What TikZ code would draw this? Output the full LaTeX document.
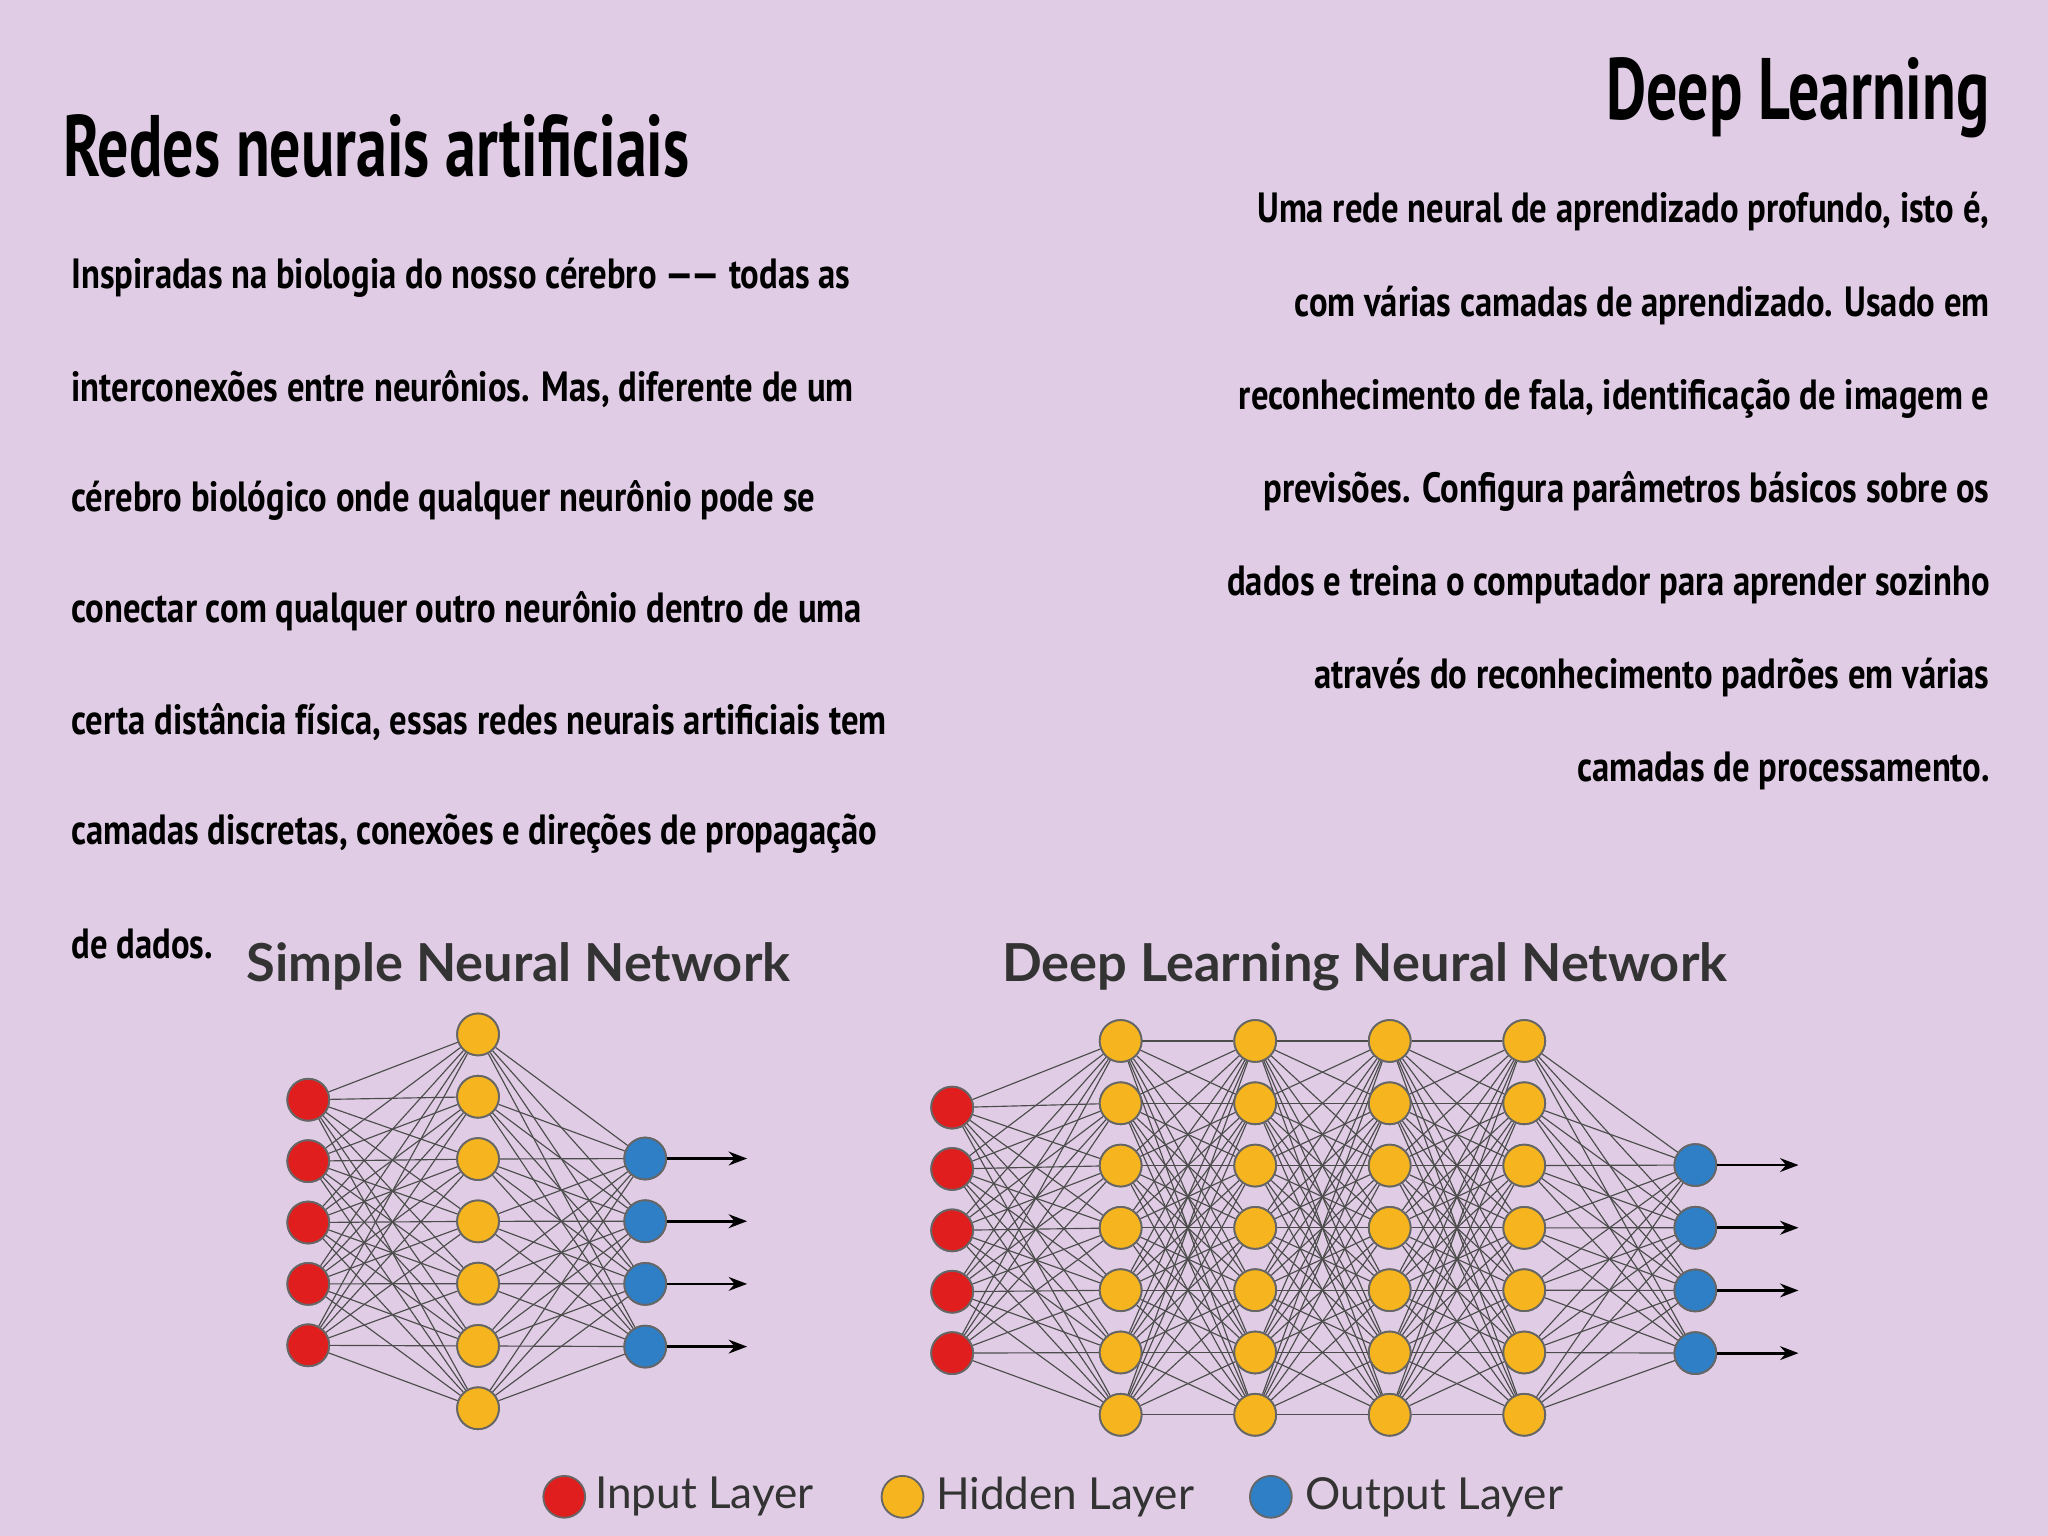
\documentclass[tikz,border=0pt]{standalone}
\usepackage{fontspec}
\setmainfont{PT Sans}
\newfontfamily\cond[FakeStretch=0.82]{PT Sans}
\newfontfamily\condt[FakeStretch=0.71]{PT Sans}
\newfontfamily\lab{Lato}
\usetikzlibrary{arrows.meta}
\definecolor{bg}{HTML}{E0CDE5}
\definecolor{inred}{HTML}{E01E1E}
\definecolor{hidor}{HTML}{F6B51E}
\definecolor{outbl}{HTML}{2F7FC7}
\tikzset{
 neu/.style={circle,inner sep=0pt,minimum size=0.32cm,draw=black!60,line width=0.4pt},
 inn/.style={neu,fill=inred},
 hid/.style={neu,fill=hidor},
 outn/.style={neu,fill=outbl},
 edge/.style={draw=black!70,line width=0.25pt},
 arr/.style={draw=black,line width=0.6pt,-{Stealth[length=4pt]}},
 body/.style={font=\cond\bfseries\fontsize{9.2}{11}\selectfont,inner sep=0pt},
 ttl/.style={font=\condt\bfseries\fontsize{19}{22}\selectfont,inner sep=0pt},
 ntl/.style={font=\lab\bfseries\fontsize{11.4}{13}\selectfont,text=black!80,inner sep=0pt},
 lg/.style={font=\lab\fontsize{9.6}{12}\selectfont,text=black!80,inner sep=0pt,anchor=west}
}
\begin{document}
\begin{tikzpicture}[x=0.01cm,y=-0.01cm]
\fill[bg] (0,0) rectangle (1568,1176);
\useasboundingbox (0,0) rectangle (1568,1176);
\node[ttl,anchor=west] (t1) at (48,112) {Redes neurais artificiais};
\node[ttl,anchor=east] (t2) at (1524,75) {Deep Learning};
\foreach \t [count=\i] in {Inspiradas na biologia do nosso cérebro —— todas as,
 interconexões entre neurônios. Mas{,} diferente de um,
 cérebro biológico onde qualquer neurônio pode se,
 conectar com qualquer outro neurônio dentro de uma,
 certa distância física{,} essas redes neurais artificiais tem,
 camadas discretas{,} conexões e direções de propagação,
 de dados.}
 \node[body,anchor=west] (l\i) at (54,128+85*\i) {\t};
\foreach \t [count=\i] in {Uma rede neural de aprendizado profundo{,} isto é{,},
 com várias camadas de aprendizado. Usado em,
 reconhecimento de fala{,} identificação de imagem e,
 previsões. Configura parâmetros básicos sobre os,
 dados e treina o computador para aprender sozinho,
 através do reconhecimento padrões em várias,
 camadas de processamento.}
 \node[body,anchor=east] (r\i) at (1524,91+71.3*\i) {\t};
\node[ntl] (n1) at (397,740) {Simple Neural Network};
\node[ntl] (n2) at (1045,740) {Deep Learning Neural Network};
% simple network
\foreach \i in {1,...,5} \node[inn] (sa\i) at (236,795+47*\i) {};
\foreach \i in {1,...,7} \node[hid] (sb\i) at (366,744.3+47.7*\i) {};
\foreach \i in {1,...,4} \node[outn] (sc\i) at (494,839+48*\i) {};
\foreach \i in {1,...,5} \foreach \j in {1,...,7} \draw[edge] (sa\i) -- (sb\j);
\foreach \i in {1,...,7} \foreach \j in {1,...,4} \draw[edge] (sb\i) -- (sc\j);
\foreach \i in {1,...,5} \node[inn] at (sa\i) {};
\foreach \i in {1,...,7} \node[hid] at (sb\i) {};
\foreach \i in {1,...,4} {\node[outn] at (sc\i) {};
 \coordinate (se\i) at (572,839+48*\i); \draw[arr] (sc\i) -- (se\i);}
% deep network
\foreach \i in {1,...,5} \node[inn] (da\i) at (729,801+47*\i) {};
\foreach \L/\x in {1/858,2/961,3/1064,4/1167}
 \foreach \i in {1,...,7} \node[hid] (dh\L-\i) at (\x,749.3+47.7*\i) {};
\foreach \i in {1,...,4} \node[outn] (dc\i) at (1298,844+48*\i) {};
\foreach \i in {1,...,5} \foreach \j in {1,...,7} \draw[edge] (da\i) -- (dh1-\j);
\foreach \L/\M in {1/2,2/3,3/4}
 \foreach \i in {1,...,7} \foreach \j in {1,...,7} \draw[edge] (dh\L-\i) -- (dh\M-\j);
\foreach \i in {1,...,7} \foreach \j in {1,...,4} \draw[edge] (dh4-\i) -- (dc\j);
\foreach \i in {1,...,5} \node[inn] at (da\i) {};
\foreach \L in {1,...,4} \foreach \i in {1,...,7} \node[hid] at (dh\L-\i) {};
\foreach \i in {1,...,4} {\node[outn] at (dc\i) {};
 \coordinate (de\i) at (1377,844+48*\i); \draw[arr] (dc\i) -- (de\i);}
% legend
\node[inn] (k1) at (432,1146) {};
\node[lg] (k1t) at (455,1146) {Input Layer};
\node[hid] (k2) at (691,1146) {};
\node[lg] (k2t) at (716,1146) {Hidden Layer};
\node[outn] (k3) at (973,1146) {};
\node[lg] (k3t) at (999,1146) {Output Layer};
\end{tikzpicture}
\end{document}
